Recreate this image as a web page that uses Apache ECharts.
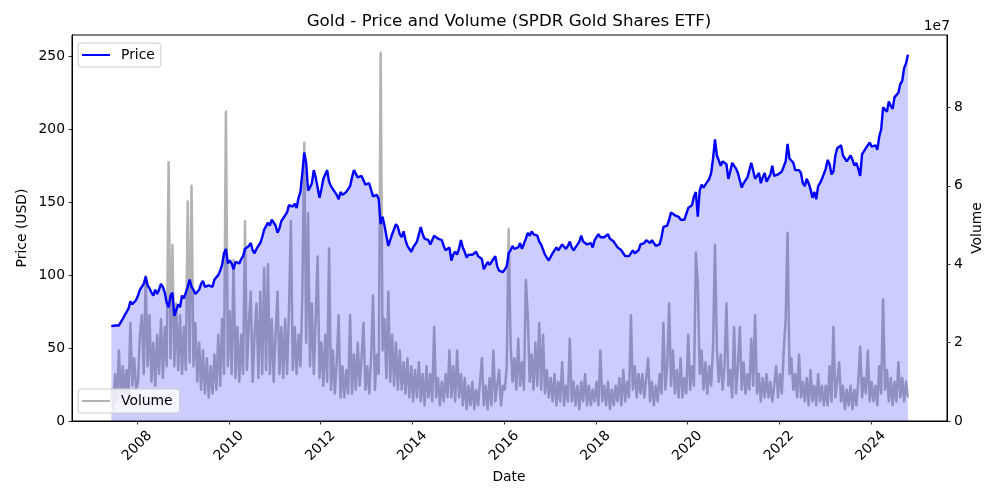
<!DOCTYPE html>
<html>
<head>
<meta charset="utf-8">
<script src="https://cdn.jsdelivr.net/npm/echarts@6/dist/echarts.min.js"></script>
<style>html,body{margin:0;padding:0;background:#fff}#c{width:1000px;height:500px}</style>
</head>
<body>
<div id="c"></div>
<script>
// ---- data (semi-monthly samples, first sample ~ June 2007) ----
const START_YEAR = 2007.433;
const SAMPLES_PER_YEAR = 24;

const price2007 = [65, 64.5, 65.5, 66.5, 65.5, 66, 70, 72.5, 73.5, 77, 82, 80, 79, 83];
const price2008 = [86, 90, 90, 94, 99, 93, 91, 88, 86, 90, 87, 90, 94, 92, 88, 81, 78, 86, 88, 72, 73, 80, 78, 86];
const price2009 = [84, 88, 92, 97, 92, 90, 87, 87, 90, 94, 96, 92, 91, 93, 93, 92, 97, 98, 100, 103, 107, 115, 118, 108];
const price2010 = [110, 108, 104, 109, 109, 108, 111, 113, 118, 118, 120, 122, 117, 115, 118, 120, 122, 126, 131, 130, 136, 134, 138, 137];
const price2011 = [134, 129, 132, 137, 139, 140, 143, 148, 147, 147, 149, 146, 153, 157, 170, 184, 177, 158, 160, 163, 172, 167, 166, 153];
const price2012 = [159, 166, 169, 172, 164, 161, 159, 160, 155, 152, 157, 155, 155, 157, 156, 161, 167, 172, 172, 167, 166, 168, 165, 162];
const price2013 = [161, 163, 162, 154, 154, 155, 152, 135, 140, 134, 135, 120, 119, 128, 127, 135, 133, 128, 126, 130, 124, 120, 119, 116];
const price2014 = [119, 121, 123, 128, 133, 128, 125, 125, 124, 121, 121, 127, 128, 125, 125, 124, 120, 117, 117, 119, 110, 114, 116, 114];
const price2015 = [118, 124, 119, 116, 112, 114, 115, 114, 115, 116, 113, 113, 111, 104, 104, 109, 107, 109, 110, 113, 106, 103, 102, 102];
const price2016 = [104, 106, 115, 117, 120, 118, 117, 119, 122, 118, 119, 125, 129, 127, 130, 128, 127, 127, 123, 121, 122, 114, 112, 110];
const price2017 = [111, 115, 117, 119, 117, 119, 121, 122, 118, 120, 123, 119, 117, 119, 120, 123, 127, 123, 122, 121, 121, 122, 119, 124];
const price2018 = [125, 128, 126, 127, 126, 127, 128, 125, 124, 123, 123, 119, 119, 117, 115, 113, 113, 113, 114, 117, 115, 116, 117, 121];
const price2019 = [122, 122, 124, 125, 122, 124, 122, 120, 121, 121, 126, 133, 132, 134, 138, 143, 142, 141, 140, 140, 138, 137, 138, 142];
const price2020 = [146, 147, 148, 154, 157, 140, 158, 162, 160, 162, 162, 166, 170, 180, 193, 182, 182, 175, 178, 178, 176, 166, 171, 177];
const price2021 = [178, 173, 170, 165, 160, 163, 163, 167, 172, 177, 178, 166, 168, 170, 163, 167, 170, 164, 165, 169, 175, 168, 167, 169];
const price2022 = [169, 171, 170, 178, 190, 180, 180, 177, 172, 173, 172, 170, 163, 161, 166, 163, 159, 153, 157, 152, 161, 163, 166, 167];
const price2023 = [173, 179, 176, 169, 171, 182, 187, 188, 189, 182, 181, 178, 179, 182, 179, 175, 177, 173, 168, 183, 184, 187, 188, 191];
const price2024 = [188, 187, 189, 186, 195, 200, 215, 214, 212, 219, 216, 214, 222, 222, 225, 231, 233, 242, 245, 251];

// volume in millions of shares
const vol2007 = [8, 3, 12, 5, 18, 6, 14, 7, 13, 6, 25, 9, 16, 8];
const vol2008 = [10, 22, 27, 12, 37, 14, 27, 10, 20, 9, 22, 12, 26, 11, 24, 14, 66, 16, 45, 14, 30, 13, 27, 12];
const vol2009 = [24, 13, 56, 15, 60, 14, 25, 10, 20, 8, 18, 7, 16, 6, 14, 7, 17, 8, 22, 9, 26, 12, 79, 14];
const vol2010 = [28, 12, 41, 11, 24, 10, 22, 12, 51, 13, 25, 33, 10, 22, 30, 11, 33, 12, 39, 13, 40, 12, 26, 10];
const vol2011 = [22, 33, 12, 24, 11, 26, 12, 28, 51, 13, 24, 12, 22, 14, 32, 71, 20, 53, 14, 30, 12, 26, 42, 11];
const vol2012 = [20, 9, 22, 10, 44, 8, 18, 7, 15, 27, 6, 14, 6, 13, 7, 27, 7, 17, 8, 20, 9, 16, 25, 8];
const vol2013 = [14, 7, 16, 32, 8, 17, 12, 94, 18, 26, 11, 33, 10, 22, 9, 20, 8, 18, 8, 15, 7, 16, 6, 14];
const vol2014 = [5, 13, 6, 15, 5, 12, 4, 14, 6, 12, 5, 24, 6, 11, 4, 10, 5, 12, 6, 18, 6, 14, 5, 18];
const vol2015 = [6, 12, 4, 11, 3, 9, 4, 10, 3, 8, 4, 10, 16, 4, 9, 3, 11, 4, 18, 5, 9, 13, 4, 9];
const vol2016 = [8, 14, 49, 20, 10, 16, 8, 21, 9, 15, 8, 36, 27, 10, 17, 8, 20, 9, 25, 8, 22, 7, 13, 6];
const vol2017 = [11, 5, 12, 4, 10, 5, 15, 4, 9, 5, 21, 5, 10, 4, 9, 3, 10, 5, 12, 4, 9, 4, 8, 5];
const vol2018 = [10, 4, 18, 5, 9, 4, 10, 3, 8, 4, 9, 5, 11, 4, 13, 5, 10, 6, 27, 8, 14, 6, 12, 7];
const vol2019 = [12, 6, 11, 16, 5, 10, 4, 9, 5, 12, 7, 25, 8, 14, 30, 9, 18, 7, 13, 6, 16, 6, 11, 7];
const vol2020 = [22, 8, 14, 9, 43, 35, 12, 18, 8, 15, 7, 14, 9, 19, 45, 18, 10, 17, 8, 14, 30, 9, 13, 6];
const vol2021 = [24, 7, 14, 24, 8, 15, 7, 12, 8, 21, 9, 27, 7, 12, 5, 11, 6, 12, 6, 10, 5, 9, 14, 6];
const vol2022 = [12, 7, 18, 26, 48, 12, 16, 8, 12, 6, 17, 6, 10, 5, 11, 4, 13, 5, 9, 4, 12, 5, 9, 4];
const vol2023 = [9, 4, 14, 5, 24, 6, 10, 15, 5, 9, 3, 8, 4, 9, 3, 8, 4, 10, 19, 6, 11, 7, 18, 5];
const vol2024 = [10, 5, 9, 4, 14, 7, 31, 8, 13, 5, 11, 4, 10, 5, 15, 6, 11, 5, 10, 6];

const yearTicks = [2008, 2010, 2012, 2014, 2016, 2018, 2020, 2022, 2024];
const priceTicks = [0, 50, 100, 150, 200, 250];
const volumeTicks = [0, 20000000, 40000000, 60000000, 80000000];

// ---- build ----
const prices = [].concat(price2007, price2008, price2009, price2010, price2011, price2012, price2013, price2014,
  price2015, price2016, price2017, price2018, price2019, price2020, price2021, price2022, price2023, price2024);
const vols = [].concat(vol2007, vol2008, vol2009, vol2010, vol2011, vol2012, vol2013, vol2014,
  vol2015, vol2016, vol2017, vol2018, vol2019, vol2020, vol2021, vol2022, vol2023, vol2024);
const t = k => START_YEAR + k / SAMPLES_PER_YEAR;
const priceData = prices.map((v, k) => [t(k), v]);
const volData = vols.map((v, k) => [t(k), v * 1e6]);

const FONT = 'DejaVu Sans';
const FS = 13.9;
const chart = echarts.init(document.getElementById('c'));
chart.setOption({
  animation: false,
  backgroundColor: '#ffffff',
  grid: { left: 72, right: 53, top: 35, bottom: 79, show: true, borderColor: '#000', borderWidth: 1, backgroundColor: 'transparent' },
  xAxis: {
    type: 'value', min: 2006.576, max: 2025.66,
    axisLine: { show: true, lineStyle: { color: '#000', width: 1 } },
    axisTick: { show: true, customValues: yearTicks, length: 3.5, lineStyle: { color: '#000', width: 0.8 } },
    axisLabel: { customValues: yearTicks, formatter: v => String(Math.round(v)), rotate: 45, align: 'center', verticalAlign: 'middle',
      margin: 25, color: '#000', fontFamily: FONT, fontSize: FS },
    splitLine: { show: false }
  },
  yAxis: [{
    type: 'value', min: 0, max: 264.6, position: 'left',
    axisLine: { show: true, lineStyle: { color: '#000', width: 1 } },
    axisTick: { show: true, customValues: priceTicks, length: 3.5, lineStyle: { color: '#000', width: 0.8 } },
    axisLabel: { customValues: priceTicks, formatter: v => String(v), margin: 7, color: '#000', fontFamily: FONT, fontSize: FS },
    splitLine: { show: false }
  }, {
    type: 'value', min: 0, max: 98500000, position: 'right',
    axisLine: { show: true, lineStyle: { color: '#000', width: 1 } },
    axisTick: { show: true, customValues: volumeTicks, length: 3.5, lineStyle: { color: '#000', width: 0.8 } },
    axisLabel: { customValues: volumeTicks, formatter: v => String(Math.round(v / 1e7)), margin: 7, color: '#000', fontFamily: FONT, fontSize: FS },
    splitLine: { show: false }
  }],
  legend: [{
    data: [{ name: 'Price', icon: 'rect' }],
    left: 78, top: 43, orient: 'vertical', padding: [4, 6, 4, 4],
    itemWidth: 28, itemHeight: 2,
    backgroundColor: 'rgba(255,255,255,0.8)', borderColor: '#cccccc', borderWidth: 1, borderRadius: 3,
    textStyle: { fontFamily: FONT, fontSize: FS, color: '#000', padding: [0, 0, 0, 6], lineHeight: 16 },
    selectedMode: false
  }, {
    data: [{ name: 'Volume', icon: 'rect' }],
    left: 78, top: 389, orient: 'vertical', padding: [4, 7, 4, 4],
    itemWidth: 28, itemHeight: 2,
    backgroundColor: 'rgba(255,255,255,0.8)', borderColor: '#cccccc', borderWidth: 1, borderRadius: 3,
    textStyle: { fontFamily: FONT, fontSize: FS, color: '#000', padding: [0, 0, 0, 6], lineHeight: 16 },
    selectedMode: false
  }],
  series: [{
    name: 'Volume', type: 'line', yAxisIndex: 1, data: volData, showSymbol: false, symbol: 'none',
    color: 'rgba(128,128,128,0.6)',
    lineStyle: { color: 'rgba(128,128,128,0.6)', width: 2.5, join: 'round' }, z: 1
  }, {
    name: 'PriceFill', type: 'line', yAxisIndex: 0, data: priceData, showSymbol: false, symbol: 'none',
    lineStyle: { width: 0, opacity: 0 }, areaStyle: { color: 'rgba(0,0,255,0.2)', opacity: 1 }, z: 2
  }, {
    name: 'Price', type: 'line', yAxisIndex: 0, data: priceData, showSymbol: false, symbol: 'none',
    color: '#0000ff', lineStyle: { color: '#0000ff', width: 2.4 }, z: 3
  }],
  graphic: [
    { type: 'text', x: 509, y: 22, style: { text: 'Gold - Price and Volume (SPDR Gold Shares ETF)', align: 'center', verticalAlign: 'middle', fill: '#000', font: '16.7px "DejaVu Sans"' } },
    { type: 'text', x: 950, y: 26, style: { text: '1e7', align: 'right', verticalAlign: 'middle', fill: '#000', font: '13.9px "DejaVu Sans"' } },
    { type: 'text', x: 22, y: 228, rotation: Math.PI / 2, style: { text: 'Price (USD)', align: 'center', verticalAlign: 'middle', fill: '#000', font: '13.9px "DejaVu Sans"' } },
    { type: 'text', x: 977, y: 228, rotation: Math.PI / 2, style: { text: 'Volume', align: 'center', verticalAlign: 'middle', fill: '#000', font: '13.9px "DejaVu Sans"' } },
    { type: 'text', x: 509, y: 477, style: { text: 'Date', align: 'center', verticalAlign: 'middle', fill: '#000', font: '13.9px "DejaVu Sans"' } }
  ]
});
</script>
</body>
</html>
